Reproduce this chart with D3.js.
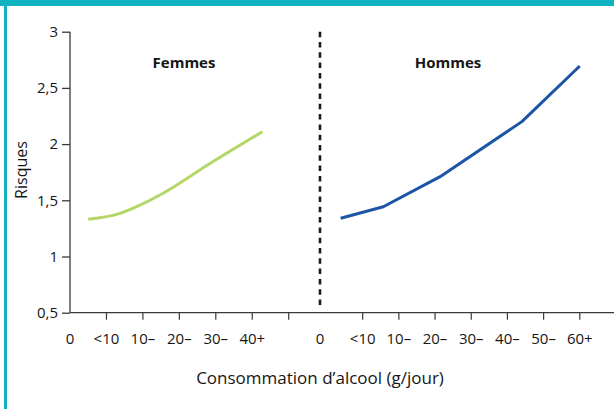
<!DOCTYPE html>
<html>
<head>
<meta charset="utf-8">
<script src="https://cdn.jsdelivr.net/npm/d3@7"></script>
<style>
  html, body { margin: 0; padding: 0; background: #fff; }
  svg { display: block; }
  text { font-family: "Open Sans", "Noto Sans", sans-serif; fill: #161616; }
</style>
</head>
<body>
<svg id="chart" width="614" height="409"></svg>
<script>
// ---- data ----
const panels = ["Femmes", "Hommes"];
const womenTickLabels = ["0", "<10", "10–", "20–", "30–", "40+"];
const womenLabelPos = [0, 1, 2, 3, 4, 5];
const womenTickPos = [1, 2, 3, 4, 5, 6];
const menTickLabels = ["0", "<10", "10–", "20–", "30–", "40–", "50–", "60+"];
const menLabelPos = [-0.18, 1, 2, 3, 4, 5, 6, 7];
const menTickPos = [1, 2, 3, 4, 5, 6, 7];
const womenX = [0.5, 1.37, 1.92, 2.47, 3.84, 5.28];
const womenRisk = [1.331, 1.384, 1.458, 1.547, 1.827, 2.110];
const menX = [0.39, 1.57, 3.14, 5.40, 7.0];
const menRisk = [1.34, 1.443, 1.71, 2.20, 2.695];
const yTicks = [0.5, 1, 1.5, 2, 2.5, 3];
const yLabel = "Risques";
const xLabel = "Consommation d’alcool (g/jour)";

// ---- scales ----
const svg = d3.select("#chart");
const y = d3.scaleLinear().domain([0.5, 3]).range([312.7, 31.7]);
const xW = d3.scaleLinear().domain([0, 6]).range([70, 288.7]);
const xM = d3.scaleLinear().domain([0, 7]).range([326.5, 579.8]);
const fmt = d => d3.format("")(d).replace(".", ",");

// frame (teal border)
svg.append("rect").attr("x", 0).attr("y", 0).attr("width", 614).attr("height", 6).attr("fill", "#10b4c0");
svg.append("rect").attr("x", 4).attr("y", 0).attr("width", 3).attr("height", 409).attr("fill", "#10b4c0");

// y axis
const yAxis = d3.axisLeft(y).tickValues(yTicks).tickFormat(fmt).tickSize(8).tickPadding(4);
const gy = svg.append("g").attr("transform", "translate(70,0)").call(yAxis);
gy.attr("font-size", null).attr("font-family", null);
gy.select(".domain").attr("d", `M0,${y(3)}V${y(0.5)}`);
gy.selectAll("text").style("font-size", "15px").style("fill", "#161616");
gy.selectAll("line, path").attr("stroke", "#3a3a3a").attr("stroke-width", 1.3);

// x baseline across whole width
svg.append("line").attr("x1", 70).attr("x2", 614).attr("y1", y(0.5)).attr("y2", y(0.5))
  .attr("stroke", "#3a3a3a").attr("stroke-width", 1.3);

function xTicks(scale, tickPos, labelPos, labels) {
  const g = svg.append("g");
  g.selectAll("line.t").data(tickPos).join("line").attr("class", "t")
    .attr("x1", d => scale(d)).attr("x2", d => scale(d))
    .attr("y1", y(0.5)).attr("y2", y(0.5) + 7)
    .attr("stroke", "#3a3a3a").attr("stroke-width", 1.2);
  g.selectAll("text").data(labelPos).join("text")
    .attr("x", d => scale(d)).attr("y", 344)
    .attr("text-anchor", "middle").style("font-size", "15px")
    .text((d, i) => labels[i]);
}
xTicks(xW, womenTickPos, womenLabelPos, womenTickLabels);
xTicks(xM, menTickPos, menLabelPos, menTickLabels);

// divider
svg.append("line").attr("x1", xM(-0.18)).attr("x2", xM(-0.18)).attr("y1", y(3)).attr("y2", 308)
  .attr("stroke", "#1a1a1a").attr("stroke-width", 2.6).attr("stroke-dasharray", "5.5,4.8");

// lines
const lineW = d3.line().x(d => xW(d[0])).y(d => y(d[1])).curve(d3.curveMonotoneX);
const lineM = d3.line().x(d => xM(d[0])).y(d => y(d[1])).curve(d3.curveLinear);
svg.append("path").datum(d3.zip(womenX, womenRisk)).attr("d", lineW)
  .attr("fill", "none").attr("stroke", "#b4d767").attr("stroke-width", 3);
svg.append("path").datum(d3.zip(menX, menRisk)).attr("d", lineM)
  .attr("fill", "none").attr("stroke", "#1c54a6").attr("stroke-width", 3).attr("stroke-linejoin", "round");

// panel titles
svg.append("text").attr("x", 184).attr("y", 68).attr("text-anchor", "middle")
  .style("font-size", "15px").attr("font-weight", "bold").text(panels[0]);
svg.append("text").attr("x", 448).attr("y", 68).attr("text-anchor", "middle")
  .style("font-size", "15px").attr("font-weight", "bold").text(panels[1]);

// axis titles
svg.append("text").attr("transform", "translate(27,170) rotate(-90)").attr("text-anchor", "middle")
  .style("font-size", "16px").text(yLabel);
svg.append("text").attr("x", 320).attr("y", 384).attr("text-anchor", "middle")
  .style("font-size", "17px").text(xLabel);
</script>
</body>
</html>
